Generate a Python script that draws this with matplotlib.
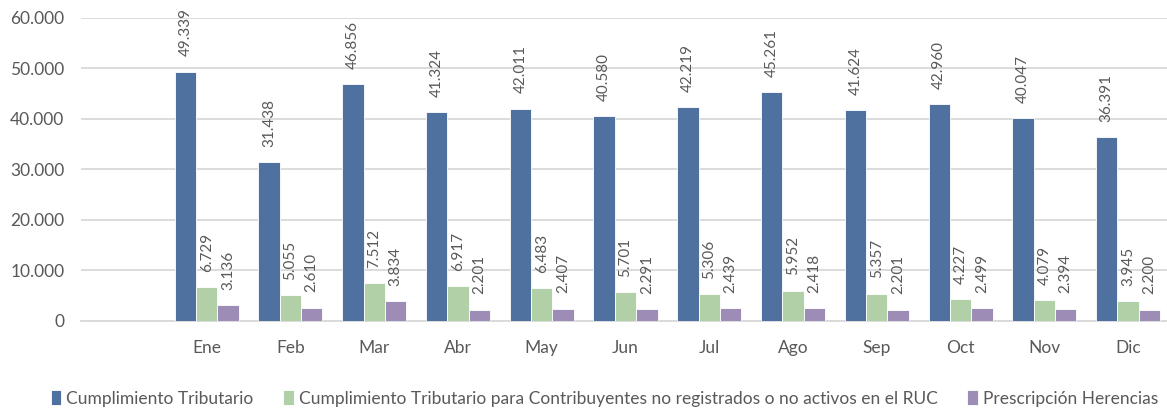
import matplotlib.pyplot as plt
import numpy as np
from matplotlib.ticker import FuncFormatter

meses = ['Ene', 'Feb', 'Mar', 'Abr', 'May', 'Jun', 'Jul', 'Ago', 'Sep', 'Oct', 'Nov', 'Dic']
cumplimiento = [49339, 31438, 46856, 41324, 42011, 40580, 42219, 45261, 41624, 42960, 40047, 36391]
no_registrados = [6729, 5055, 7512, 6917, 6483, 5701, 5306, 5952, 5357, 4227, 4079, 3945]
herencias = [3136, 2610, 3834, 2201, 2407, 2291, 2439, 2418, 2201, 2499, 2394, 2200]

series = [
    ('Cumplimiento Tributario', cumplimiento, '#4E71A0'),
    ('Cumplimiento Tributario para Contribuyentes no registrados o no activos en el RUC', no_registrados, '#B1D0A8'),
    ('Prescripción Herencias', herencias, '#9D8CB5'),
]

def miles(v):
    return f'{v:,.0f}'.replace(',', '.')

plt.rcParams['font.family'] = ['Lato', 'DejaVu Sans']

fig = plt.figure(figsize=(11.67, 4.08), dpi=100)
ax = fig.add_axes([81 / 1167, 1 - 320.7 / 408, (1170 - 81) / 1167, 303 / 408])

x = np.arange(len(meses))
w = 0.255
txt = '#595959'
for i, (nombre, vals, col) in enumerate(series):
    pos = x + (i - 1) * w
    ax.bar(pos, vals, w, color=col, edgecolor='white', linewidth=0.6, label=nombre, zorder=3)
    for px, v in zip(pos, vals):
        ax.text(px, v + 3000, miles(v), rotation=90, ha='center', va='bottom',
                fontsize=11, color=txt)

ax.set_xlim(-1.5, 11.5)
ax.set_ylim(0, 60000)
ax.set_yticks(range(0, 60001, 10000))
ax.yaxis.set_major_formatter(FuncFormatter(lambda v, p: miles(v)))
ax.set_xticks(x)
ax.set_xticklabels(meses)
ax.tick_params(axis='both', length=0, labelsize=12.5, colors=txt)
ax.tick_params(axis='x', pad=14)
ax.tick_params(axis='y', pad=12)
ax.grid(axis='y', color='#D9D9D9', linewidth=1.3, zorder=0)
for s in ['top', 'right', 'left']:
    ax.spines[s].set_visible(False)
ax.spines['bottom'].set_color('#D9D9D9')
ax.spines['bottom'].set_linewidth(1.3)

fig.legend(loc='lower center', bbox_to_anchor=(0.518, -0.035), ncol=3, frameon=False,
           fontsize=12.5, labelcolor=txt, handlelength=0.6, handleheight=0.9,
           handletextpad=0.3, columnspacing=1.7)

fig.savefig('out.png', dpi=100)
